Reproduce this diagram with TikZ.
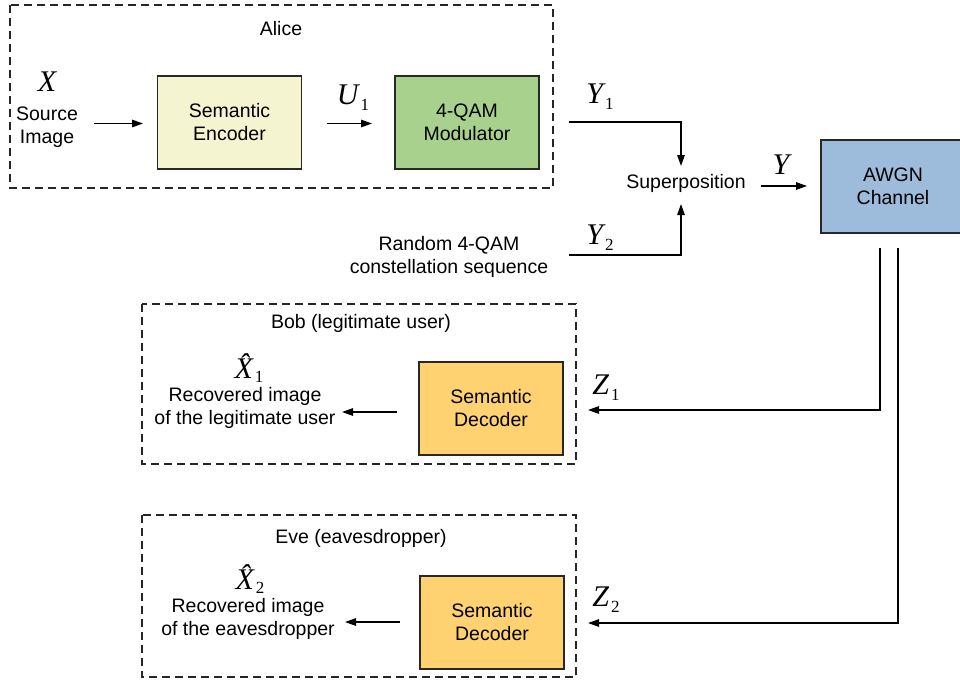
\documentclass[tikz,border=0pt]{standalone}
\usepackage{fontspec}
\setmainfont{Liberation Sans}
\newfontfamily\varfont{Liberation Serif}
\usetikzlibrary{arrows.meta}
\definecolor{encfill}{RGB}{244,244,208}
\definecolor{modfill}{RGB}{169,209,142}
\definecolor{chfill}{RGB}{157,187,218}
\definecolor{decfill}{RGB}{255,210,113}
\definecolor{edge}{RGB}{40,40,40}
\newcommand{\vv}[2]{{\fontsize{30}{30}\selectfont\varfont\itshape #1}\kern2pt\raisebox{-6pt}{\fontsize{17}{17}\selectfont\varfont #2}}
\newcommand{\vh}[2]{{\fontsize{30}{30}\selectfont\varfont\itshape #1}\kern2pt\raisebox{-4pt}{\fontsize{17}{17}\selectfont\varfont #2}}
\newcommand{\vs}[1]{{\fontsize{30}{30}\selectfont\varfont\itshape #1}}
\begin{document}
\begin{tikzpicture}[x=1pt,y=-1pt,
  txt/.style={font=\fontsize{19.5}{23}\selectfont, align=center, inner sep=0pt},
  var/.style={inner sep=0pt},
  blk/.style={draw=edge, line width=1.1pt, minimum width=144pt, minimum height=93pt, font=\fontsize{19.5}{23}\selectfont, align=center},
  grp/.style={draw=black!85, line width=1.3pt, dash pattern=on 8pt off 5pt},
  conn/.style={line width=1.3pt, draw=black},
  arr/.style={conn, -{Triangle[length=11pt,width=7.5pt]}}]
\useasboundingbox (0,0) rectangle (960,681);
\begin{scope}
\clip (0,0) rectangle (960,681);
% Alice
\draw[grp] (10,5) rectangle (553,188);
\node[txt] (alice) at (281,29) {Alice};
\node[var] (X) at (47,82) {\vs{X}};
\node[txt] (src) at (47,127) {Source\\Image};
\node[blk, fill=encfill] (enc) at (229.5,122.5) {Semantic\\Encoder};
\node[var] (U1) at (353,98) {\vv{U}{1}};
\node[blk, fill=modfill] (mod) at (467,122.5) {4-QAM\\Modulator};
\coordinate (a1s) at (94,123.5);
\coordinate (a1e) at (143,123.5);
\coordinate (a2s) at (327,123.5);
\coordinate (a2e) at (372,123.5);
\draw[arr] (a1s) -- (a1e);
\draw[arr] (a2s) -- (a2e);
% superposition
\node[var] (Y1) at (600,97) {\vv{Y}{1}};
\node[var] (Y2) at (600,238) {\vv{Y}{2}};
\node[txt] (sup) at (686,183) {Superposition};
\node[txt] (rand) at (449,257) {Random 4-QAM\\constellation sequence};
\coordinate (y1s) at (569,122);
\coordinate (y2s) at (569,255);
\coordinate (supt) at (681,166);
\coordinate (supb) at (681,204);
\draw[arr] (y1s) -| (supt);
\draw[arr] (y2s) -| (supb);
\node[var] (Y) at (781,165) {\vs{Y}};
\node[blk, fill=chfill] (awgn) at (893,186.5) {AWGN\\Channel};
\coordinate (ys) at (761,186);
\coordinate (ye) at (807,186);
\draw[arr] (ys) -- (ye);
% Bob
\draw[grp] (142,304) rectangle (576,464);
\node[txt] (bob) at (361,323) {Bob (legitimate user)};
\node[var] (Xh1) at (249,368) {\vh{\^{X}}{1}};
\node[txt] (rec1) at (245,408) {Recovered image\\of the legitimate user};
\node[blk, fill=decfill] (dec1) at (491,408.5) {Semantic\\Decoder};
\coordinate (b1s) at (397,412);
\coordinate (b1e) at (342,412);
\draw[arr] (b1s) -- (b1e);
\node[var] (Z1) at (606,388) {\vv{Z}{1}};
% Eve
\draw[grp] (142,515) rectangle (576,677);
\node[txt] (eve) at (361,538) {Eve (eavesdropper)};
\node[var] (Xh2) at (250,579) {\vh{\^{X}}{2}};
\node[txt] (rec2) at (248,619) {Recovered image\\of the eavesdropper};
\node[blk, fill=decfill] (dec2) at (492,622.5) {Semantic\\Decoder};
\coordinate (e1s) at (400,622);
\coordinate (e1e) at (345,622);
\draw[arr] (e1s) -- (e1e);
\node[var] (Z2) at (606,600) {\vv{Z}{2}};
% channel outputs
\coordinate (c1) at (880,248);
\coordinate (c2) at (898,248);
\coordinate (z1e) at (588,410);
\coordinate (z2e) at (588,623);
\draw[arr] (c1) |- (z1e);
\draw[arr] (c2) |- (z2e);
\end{scope}
\end{tikzpicture}
\end{document}
